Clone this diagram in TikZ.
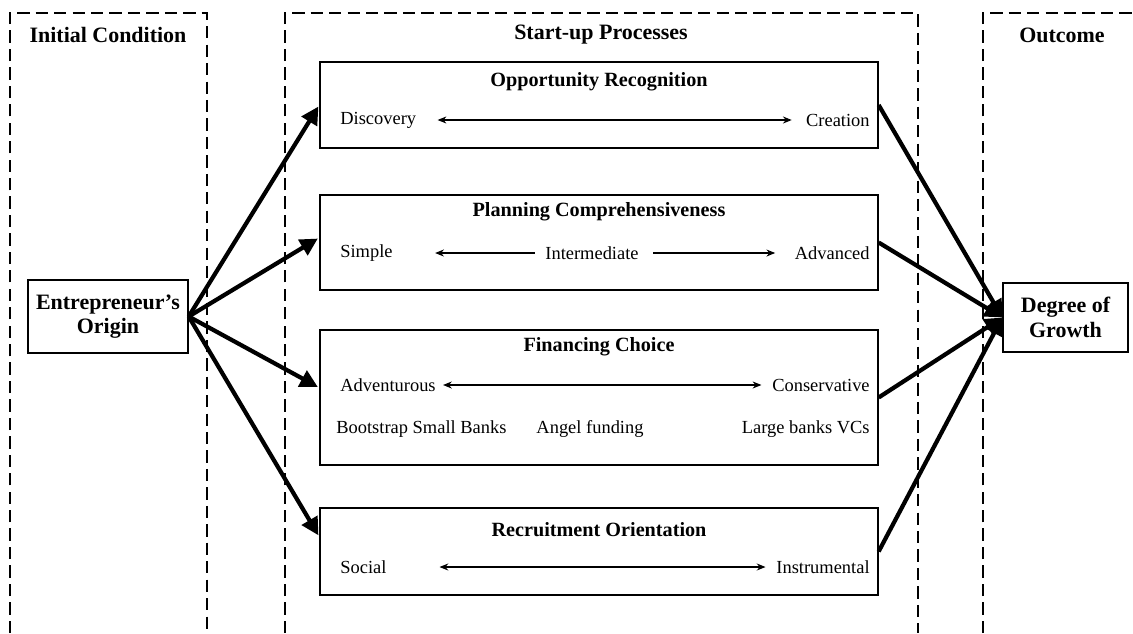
\documentclass[tikz,border=0pt]{standalone}
\usepackage{fontspec}
\setmainfont{Liberation Serif}
\usetikzlibrary{arrows.meta,positioning}

\begin{document}
\begin{tikzpicture}[x=0.02cm,y=-0.02cm,
        zone/.style={line width=0.8pt,dash pattern=on 7pt off 3.5pt},
        head/.style={font=\fontsize{12.5}{14}\selectfont\bfseries,align=center},
        stage/.style={draw,line width=0.8pt,minimum width=11.16cm,minimum height=#1,inner sep=0pt},
        ttl/.style={font=\fontsize{11.5}{13}\selectfont\bfseries},
        lbl/.style={font=\fontsize{10.5}{12}\selectfont,inner sep=0pt},
        scale line/.style={line width=0.6pt,-{Stealth[length=5pt,width=4pt]}},
        both line/.style={line width=0.6pt,{Stealth[length=5pt,width=4pt]}-{Stealth[length=5pt,width=4pt]}},
        link/.style={line width=2.4pt,-{Triangle[length=10pt,width=10pt]}}]
        \useasboundingbox (0,0) rectangle (1133,633);
        \draw[zone] (10,633) |- (207,13) -- (207,633);
        \draw[zone] (285,633) |- (918,13) -- (918,633);
        \draw[zone] (983,633) |- (1133,13);
        \node[head] (hInit) at (108,35) {Initial Condition};
        \node[head] (hProc) at (601,35) {Start-up Processes};
        \node[head] (hOut) at (1062,35) {Outcome};

        \node[head,draw,line width=0.8pt,minimum width=3.2cm,minimum height=1.46cm,inner sep=2pt] (ent) at (108,316.5) {Entrepreneur's\\Origin};
        \node[head,draw,line width=0.8pt,minimum width=2.5cm,minimum height=1.38cm,inner sep=2pt] (grow) at (1065.5,317.5) {Degree of\\Growth};

        \node[stage=1.72cm] (opp) at (599,105) {};
        \node[stage=1.9cm] (plan) at (599,242.5) {};
        \node[stage=2.7cm] (fin) at (599,397.5) {};
        \node[stage=1.74cm] (rec) at (599,551.5) {};

        \node[ttl] (oppT) at (599,82) {Opportunity Recognition};
        \node[lbl,anchor=west] (disc) at (340,120) {Discovery};
        \node[lbl,anchor=east] (crea) at (870,120) {Creation};
        \draw[both line,shorten <=12pt,shorten >=8pt] (disc) -- (crea);

        \node[ttl] (planT) at (599,212) {Planning Comprehensiveness};
        \node[lbl,anchor=west] (simp) at (340,253) {Simple};
        \node[lbl] (inter) at (592,253) {Intermediate};
        \node[lbl,anchor=east] (adv) at (870,253) {Advanced};
        \draw[scale line,shorten <=6pt,shorten >=24pt] (inter) -- (simp);
        \draw[scale line,shorten <=8pt,shorten >=11pt] (inter) -- (adv);

        \node[ttl] (finT) at (599,347) {Financing Choice};
        \node[lbl,anchor=west] (adve) at (340,385) {Adventurous};
        \node[lbl,anchor=east] (cons) at (870,385) {Conservative};
        \draw[both line,shorten <=4pt,shorten >=6pt] (adve) -- (cons);
        \node[lbl,anchor=west] (boot) at (336,429) {Bootstrap Small Banks};
        \node[lbl] (angel) at (590,429) {Angel funding};
        \node[lbl,anchor=east] (large) at (870,429) {Large banks VCs};

        \node[ttl] (recT) at (599,530) {Recruitment Orientation};
        \node[lbl,anchor=west] (soc) at (340,567) {Social};
        \node[lbl,anchor=east] (inst) at (870,567) {Instrumental};
        \draw[both line,shorten <=30pt,shorten >=6pt] (soc) -- (inst);

        \draw[link,shorten >=1pt] (ent.east) -- (opp.west);
        \draw[link,shorten >=1pt] (ent.east) -- (plan.179);
        \draw[link,shorten >=1pt] (ent.east) -- (fin.178);
        \draw[link,shorten >=1pt] (ent.east) -- (rec.177);

        \draw[link] (opp.east) -- (grow.west);
        \draw[link] (plan.east) -- (grow.west);
        \draw[link] (fin.east) -- (grow.west);
        \draw[link] (rec.east) -- (grow.west);
\end{tikzpicture}
\end{document}
